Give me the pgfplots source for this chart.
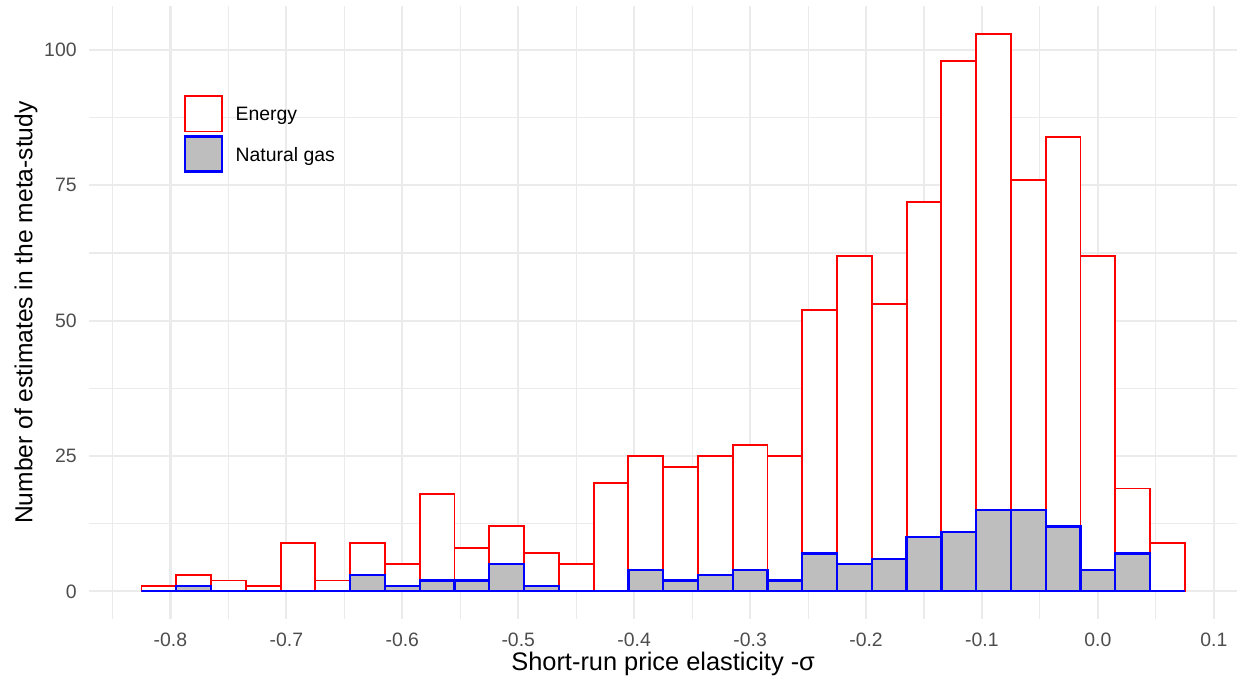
\documentclass[border=0pt]{standalone}
\usepackage{pgfplots}
\pgfplotsset{compat=1.18}
\usepackage{fontspec}
\setmainfont{Liberation Sans}
\definecolor{gridgray}{HTML}{EBEBEB}
\definecolor{ticktext}{HTML}{4D4D4D}
\definecolor{gasfill}{HTML}{BEBEBE}
\pgfplotsset{boxlegend/.style={legend image code/.code={\draw[##1] (0bp,-7.85bp) rectangle (18.3bp,9.75bp);}}}

\pgfplotstableread{
x y
-0.825 1
-0.795 3
-0.765 2
-0.735 1
-0.705 9
-0.675 2
-0.645 9
-0.615 5
-0.585 18
-0.555 8
-0.525 12
-0.495 7
-0.465 5
-0.435 20
-0.405 25
-0.375 23
-0.345 25
-0.315 27
-0.285 25
-0.255 52
-0.225 62
-0.195 53
-0.165 72
-0.135 98
-0.105 103
-0.075 76
-0.045 84
-0.015 62
0.015 19
0.045 9
0.075 9
}\energy

\pgfplotstableread{
x y
-0.825 0
-0.795 1
-0.765 0
-0.735 0
-0.705 0
-0.675 0
-0.645 3
-0.615 1
-0.585 2
-0.555 2
-0.525 5
-0.495 1
-0.465 0
-0.435 0
-0.405 4
-0.375 2
-0.345 3
-0.315 4
-0.285 2
-0.255 7
-0.225 5
-0.195 6
-0.165 10
-0.135 11
-0.105 15
-0.075 15
-0.045 12
-0.015 4
0.015 7
0.045 0
0.075 0
}\gas

\begin{document}
\begin{tikzpicture}
\useasboundingbox (-44.65bp,-31.4bp) rectangle (574.35bp,309.6bp);
\begin{axis}[
  scale only axis, width=573.85bp, height=306.65bp,
  xmin=-0.87, xmax=0.12, ymin=-5.15, ymax=108.15,
  axis line style={draw=none},
  major tick length=0pt, minor tick length=0pt,
  xtick={-0.8,-0.7,-0.6,-0.5,-0.4,-0.3,-0.2,-0.1,0,0.1},
  xticklabels={-0.8,-0.7,-0.6,-0.5,-0.4,-0.3,-0.2,-0.1,0.0,0.1},
  minor xtick={-0.85,-0.75,-0.65,-0.55,-0.45,-0.35,-0.25,-0.15,-0.05,0.05},
  ytick={0,25,50,75,100},
  yticklabels={0,25,50,75,100},
  minor ytick={12.5,37.5,62.5,87.5},
  grid=both,
  major grid style={draw=gridgray, line width=1.07bp},
  minor grid style={draw=gridgray, line width=0.55bp},
  tick label style={font=\fontsize{9.7bp}{11bp}\selectfont, text=ticktext},
  xticklabel style={anchor=base, inner sep=0pt, yshift=-13.4bp},
  yticklabel style={anchor=east, inner sep=0pt, xshift=-6.15bp},
  legend style={at={(rel axis cs:0.0825,0.8542)}, anchor=north west,
    draw=none, fill=none, inner sep=0pt, outer sep=0pt,
    row sep=1.4bp, column sep=6.4bp,
    font=\fontsize{9.7bp}{11bp}\selectfont,
    nodes={inner sep=0pt, text=black}},
  legend cell align=left,
]
\addplot[ybar interval, draw=red, fill=white, line width=0.95bp, boxlegend]
  table[x=x, y=y] {\energy};
\addlegendentry{Energy}
\addplot[ybar interval, draw=blue, fill=gasfill, line width=1.15bp, boxlegend]
  table[x=x, y=y] {\gas};
\addlegendentry{Natural gas}
\end{axis}
\node[anchor=base, font=\fontsize{12.7bp}{14bp}\selectfont] at (286.925bp,-25.4bp) {Short-run price elasticity -σ};
\node[rotate=90, anchor=base, font=\fontsize{12.3bp}{14bp}\selectfont] at (-28.4bp,153.325bp) {Number of estimates in the meta-study};
\end{tikzpicture}
\end{document}
